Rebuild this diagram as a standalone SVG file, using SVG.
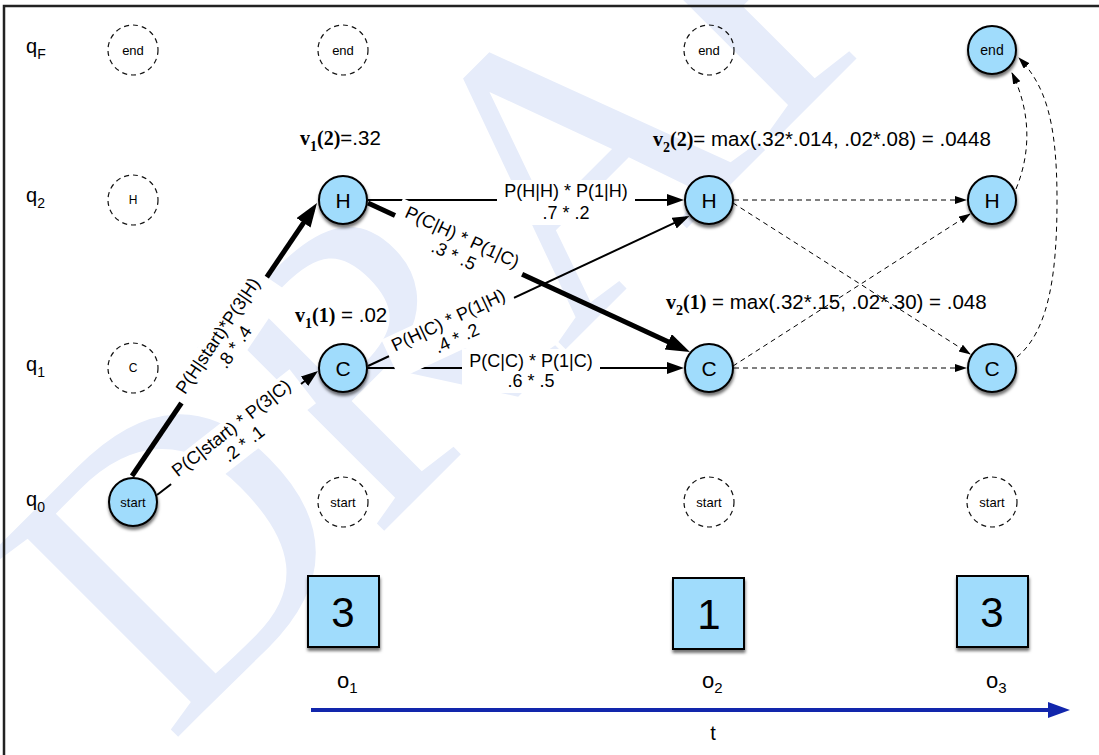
<svg xmlns="http://www.w3.org/2000/svg" width="1099" height="755" viewBox="0 0 1099 755">
<defs>
<style>
.sans{font-family:"Liberation Sans",Arial,sans-serif;fill:#000}
.bser{font-family:"Liberation Serif","Times New Roman",serif;font-weight:bold;fill:#000}
.lbl{font-family:"Liberation Sans",Arial,sans-serif;font-size:18px;text-anchor:middle;fill:#000}
.node{fill:#a0dcfc;stroke:#000;stroke-width:2;filter:url(#sh)}
.ghost{fill:none;stroke:#111;stroke-width:1.2;stroke-dasharray:5 4}
.thin{stroke:#000;stroke-width:2;fill:none;marker-end:url(#aThin)}
.thick{stroke:#000;stroke-width:5;fill:none;marker-end:url(#aThick)}
.dash{stroke:#000;stroke-width:1;fill:none;stroke-dasharray:5 4;marker-end:url(#aDash)}
.box{fill:#fff}
.ntext{font-family:"Liberation Sans",Arial,sans-serif;text-anchor:middle;fill:#000}
</style>
<filter id="sh" x="-30%" y="-30%" width="160%" height="170%">
<feDropShadow dx="0.5" dy="3" stdDeviation="1.5" flood-color="#000" flood-opacity="0.55"/>
</filter>
<marker id="aThin" markerUnits="userSpaceOnUse" markerWidth="18" markerHeight="13" refX="14" refY="6" orient="auto"><path d="M0,0 L17,6 L0,12 z" fill="#000"/></marker>
<marker id="aThick" markerUnits="userSpaceOnUse" markerWidth="25" markerHeight="18" refX="16" refY="8.5" orient="auto"><path d="M0,0 L24,8.5 L0,17 z" fill="#000"/></marker>
<marker id="aDash" markerUnits="userSpaceOnUse" markerWidth="13" markerHeight="9" refX="11" refY="4" orient="auto"><path d="M0,0 L12,4 L0,8 z" fill="#000"/></marker>
<marker id="aBlue" markerUnits="userSpaceOnUse" markerWidth="24" markerHeight="18" refX="10" refY="8" orient="auto"><path d="M0,0 L22,8 L0,16 z" fill="#1226ac"/></marker>
</defs>
<rect width="1099" height="755" fill="#fff"/>
<g id="watermark">
<text transform="translate(170,745) rotate(-45)" font-family="Liberation Serif,serif" font-size="400" fill="#e6ecfa">DRAFT</text>
</g>
<path d="M4,755 V6 H1099" fill="none" stroke="#222" stroke-width="2.5"/>
<g id="row-labels" class="sans" font-size="20">
<text x="26" y="53">q<tspan font-size="14" dy="6">F</tspan></text>
<text x="26" y="202">q<tspan font-size="14" dy="6">2</tspan></text>
<text x="26" y="371">q<tspan font-size="14" dy="6">1</tspan></text>
<text x="26" y="506">q<tspan font-size="14" dy="6">0</tspan></text>
</g>
<g id="connectors">
<line class="thick" x1="132" y1="476" x2="312.5" y2="209.6"/>
<line class="thin" x1="157" y1="495" x2="315.6" y2="372.8"/>
<line class="thin" x1="368" y1="200" x2="681" y2="200"/>
<line class="thick" x1="368" y1="203" x2="682.7" y2="348.6"/>
<line class="thin" x1="368" y1="366" x2="686.8" y2="217.2"/>
<line class="thin" x1="368" y1="368" x2="681" y2="368"/>
<line class="dash" x1="734" y1="200" x2="966" y2="200"/>
<line class="dash" x1="733" y1="203" x2="970" y2="354"/>
<line class="dash" x1="733" y1="366" x2="970" y2="214"/>
<line class="dash" x1="734" y1="368" x2="966" y2="368"/>
<path class="dash" d="M1016,189 C1032,150 1030,110 1012,73"/>
<path class="dash" d="M1017,357 C1050,330 1057,270 1057,200 C1057,120 1045,85 1019,58"/>
</g>
<g id="edge-labels">
<g transform="translate(224,340) rotate(-56)"><rect class="box" x="-76" y="-18" width="152" height="43"/><text class="lbl" y="-1.5">P(H|start)*P(3|H)</text><text class="lbl" y="18.5">.8 * .4</text></g>
<g transform="translate(236,434) rotate(-38)"><rect class="box" x="-82" y="-18" width="164" height="43"/><text class="lbl" y="-1.5">P(C|start) * P(3|C)</text><text class="lbl" y="18.5">.2 * .1</text></g>
<g transform="translate(566,200)"><rect class="box" x="-69" y="-20" width="138" height="45"/><text class="lbl" y="-3">P(H|H) * P(1|H)</text><text class="lbl" y="18.5">.7 * .2</text></g>
<g transform="translate(459,244) rotate(24.8)"><rect class="box" x="-70" y="-18" width="140" height="43"/><text class="lbl" y="-1.5">P(C|H) * P(1|C)</text><text class="lbl" y="18.5">.3 * .5</text></g>
<g transform="translate(451.5,327) rotate(-25)"><rect class="box" x="-69" y="-18" width="138" height="43"/><text class="lbl" y="-1.5">P(H|C) * P(1|H)</text><text class="lbl" y="18.5">.4 * .2</text></g>
<g transform="translate(531,368)"><rect class="box" x="-69" y="-19" width="138" height="44"/><text class="lbl" y="-1.5">P(C|C) * P(1|C)</text><text class="lbl" y="18.5">.6 * .5</text></g>
</g>
<g id="ghost-nodes">
<g id="g-end0"><circle class="ghost" cx="133" cy="50" r="25"/><text class="ntext" x="133" y="54.5" font-size="13">end</text></g>
<g id="g-H0"><circle class="ghost" cx="133" cy="200" r="25"/><text class="ntext" x="133" y="204" font-size="12">H</text></g>
<g id="g-C0"><circle class="ghost" cx="133" cy="368" r="25"/><text class="ntext" x="133" y="372" font-size="12">C</text></g>
<g id="g-end1"><circle class="ghost" cx="343" cy="50" r="25"/><text class="ntext" x="343" y="54.5" font-size="13">end</text></g>
<g id="g-start1"><circle class="ghost" cx="343" cy="502" r="25"/><text class="ntext" x="343" y="506.5" font-size="13">start</text></g>
<g id="g-end2"><circle class="ghost" cx="709" cy="50" r="25"/><text class="ntext" x="709" y="54.5" font-size="13">end</text></g>
<g id="g-start2"><circle class="ghost" cx="709" cy="502" r="25"/><text class="ntext" x="709" y="506.5" font-size="13">start</text></g>
<g id="g-start3"><circle class="ghost" cx="992" cy="502" r="25"/><text class="ntext" x="992" y="506.5" font-size="13">start</text></g>
</g>
<g id="n-start"><circle class="node" cx="133" cy="502" r="24"/><text class="ntext" x="133" y="506.5" font-size="13">start</text></g>
<g id="n-H1"><circle class="node" cx="343" cy="200" r="24"/><text class="ntext" x="343" y="207.5" font-size="21">H</text></g>
<g id="n-C1"><circle class="node" cx="343" cy="368" r="24"/><text class="ntext" x="343" y="375.5" font-size="21">C</text></g>
<g id="n-H2"><circle class="node" cx="709" cy="200" r="24"/><text class="ntext" x="709" y="207.5" font-size="21">H</text></g>
<g id="n-C2"><circle class="node" cx="709" cy="368" r="24"/><text class="ntext" x="709" y="375.5" font-size="21">C</text></g>
<g id="n-H3"><circle class="node" cx="992" cy="200" r="24"/><text class="ntext" x="992" y="207.5" font-size="21">H</text></g>
<g id="n-C3"><circle class="node" cx="992" cy="368" r="24"/><text class="ntext" x="992" y="375.5" font-size="21">C</text></g>
<g id="n-end3"><circle class="node" cx="992" cy="50" r="24"/><text class="ntext" x="992" y="55" font-size="14">end</text></g>
<g id="viterbi-values" font-size="20.5">
<text x="300" y="145"><tspan class="bser" font-size="20">v</tspan><tspan class="bser" font-size="14" dy="6">1</tspan><tspan class="bser" font-size="20" dy="-6">(2)</tspan><tspan class="sans">=.32</tspan></text>
<text x="295" y="322"><tspan class="bser" font-size="20">v</tspan><tspan class="bser" font-size="14" dy="6">1</tspan><tspan class="bser" font-size="20" dy="-6">(1)</tspan><tspan class="sans"> = .02</tspan></text>
<text x="653" y="146"><tspan class="bser" font-size="20">v</tspan><tspan class="bser" font-size="14" dy="6">2</tspan><tspan class="bser" font-size="20" dy="-6">(2)</tspan><tspan class="sans">= max(.32*.014, .02*.08) = .0448</tspan></text>
<text x="666" y="309"><tspan class="bser" font-size="20">v</tspan><tspan class="bser" font-size="14" dy="6">2</tspan><tspan class="bser" font-size="20" dy="-6">(1)</tspan><tspan class="sans"> = max(.32*.15, .02*.30) = .048</tspan></text>
</g>
<g id="observations">
<g id="obs1"><rect class="node" x="308" y="576" width="71" height="71"/><text class="ntext" x="343" y="627" font-size="42">3</text></g>
<g id="obs2"><rect class="node" x="673" y="578" width="71" height="71"/><text class="ntext" x="709" y="629" font-size="42">1</text></g>
<g id="obs3"><rect class="node" x="957" y="576" width="71" height="71"/><text class="ntext" x="992" y="627" font-size="42">3</text></g>
<text class="sans" x="337" y="688" font-size="22">o<tspan font-size="15" dy="5">1</tspan></text>
<text class="sans" x="702" y="688" font-size="22">o<tspan font-size="15" dy="5">2</tspan></text>
<text class="sans" x="986" y="688" font-size="22">o<tspan font-size="15" dy="5">3</tspan></text>
</g>
<g id="time-axis">
<line x1="311" y1="710" x2="1058" y2="710" stroke="#1226ac" stroke-width="4" marker-end="url(#aBlue)"/>
<text class="sans" x="713" y="740" font-size="20" text-anchor="middle">t</text>
</g>
</svg>
